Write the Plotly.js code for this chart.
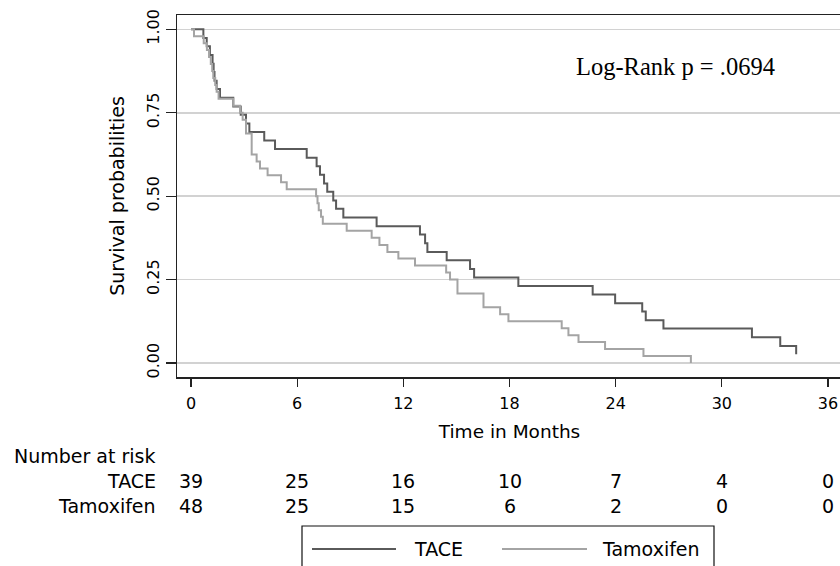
<!DOCTYPE html>
<html>
<head>
<meta charset="utf-8">
<script src="https://cdn.plot.ly/plotly-3.0.1.min.js"></script>
<style>
html, body { margin: 0; padding: 0; background: #fff; overflow: hidden; }
#chart { width: 860px; height: 566px; }
</style>
</head>
<body>
<div id="chart"></div>
<script>
// ---- data (Kaplan-Meier step points) ----
const taceTime = [0, 0.70, 0.89, 1.07, 1.22, 1.28, 1.33, 1.45, 1.64, 2.39, 2.81, 3.11, 3.30, 4.14, 4.75,
  6.54, 7.10, 7.29, 7.52, 7.70, 8.04, 8.20, 8.61, 10.49, 12.94, 13.23, 13.36, 14.45, 15.77, 16.00,
  18.50, 22.70, 23.97, 25.50, 25.70, 26.70, 31.70, 33.30, 34.20];
const taceSurv = [1.0, 0.974, 0.949, 0.923, 0.897, 0.872, 0.846, 0.821, 0.795, 0.769, 0.744, 0.718, 0.692, 0.667, 0.641,
  0.615, 0.590, 0.564, 0.538, 0.513, 0.487, 0.462, 0.436, 0.410, 0.385, 0.359, 0.333, 0.308, 0.282, 0.256,
  0.231, 0.205, 0.179, 0.154, 0.128, 0.103, 0.077, 0.051, 0.026];

const tamoTime = [0, 0.17, 0.72, 0.90, 1.02, 1.12, 1.20, 1.26, 1.37, 1.45, 1.56, 2.39, 2.77, 2.92, 3.11,
  3.43, 3.71, 3.90, 4.33, 5.09, 5.41, 7.07, 7.15, 7.22, 7.35, 7.45, 8.80, 10.21, 10.65, 11.10, 11.72,
  12.66, 14.42, 14.64, 15.06, 16.53, 17.47, 17.94, 20.95, 21.33, 21.90, 23.40, 25.57, 28.25];
const tamoSurv = [1.0, 0.979, 0.958, 0.938, 0.917, 0.896, 0.875, 0.854, 0.833, 0.813, 0.792, 0.771, 0.750, 0.729, 0.688,
  0.625, 0.604, 0.583, 0.563, 0.542, 0.521, 0.500, 0.479, 0.458, 0.438, 0.417, 0.396, 0.375, 0.354, 0.333, 0.313,
  0.292, 0.271, 0.250, 0.208, 0.167, 0.146, 0.125, 0.104, 0.083, 0.063, 0.042, 0.021, 0.0];

const groups = ["TACE", "Tamoxifen"];
const riskTimes = [0, 6, 12, 18, 24, 30, 36];
const riskTACE = [39, 25, 16, 10, 7, 4, 0];
const riskTamo = [48, 25, 15, 6, 2, 0, 0];
const yTickVals = [0, 0.25, 0.5, 0.75, 1.0];
const yTickText = ["0.00", "0.25", "0.50", "0.75", "1.00"];
const xTickVals = [0, 6, 12, 18, 24, 30, 36];
const pText = "Log-Rank p = .0694";

// ---- styling ----
const cTACE = "#5a5a5a";
const cTamo = "#a4a4a4";
const sans = "DejaVu Sans";
const W = 860, H = 566, ML = 177, MR = 18, MT = 15, MB = 189;
const PW = W - ML - MR, PH = H - MT - MB;
const px = v => (v - ML) / PW;           // pixel x -> paper
const py = v => (H - MB - v) / PH;       // pixel y -> paper

const traces = [
  { x: taceTime, y: taceSurv, name: groups[0], type: "scatter", mode: "lines",
    line: { shape: "hv", color: cTACE, width: 2 }, showlegend: false, hoverinfo: "skip" },
  { x: tamoTime, y: tamoSurv, name: groups[1], type: "scatter", mode: "lines",
    line: { shape: "hv", color: cTamo, width: 2 }, showlegend: false, hoverinfo: "skip" }
];

const ann = [];
ann.push({ x: 27.4, y: 0.89, xref: "x", yref: "y", text: pText, showarrow: false,
  font: { family: "Liberation Serif", size: 24.5, color: "#000" }, xanchor: "center", yanchor: "middle" });

ann.push({ x: px(12), y: py(456), xref: "paper", yref: "paper", text: "Number at risk", showarrow: false,
  xanchor: "left", yanchor: "middle", font: { family: sans, size: 19, color: "#000" } });
const rows = [[groups[0], riskTACE, 481], [groups[1], riskTamo, 506]];
rows.forEach(r => {
  ann.push({ x: px(158), y: py(r[2]), xref: "paper", yref: "paper", text: r[0], showarrow: false,
    xanchor: "right", yanchor: "middle", font: { family: sans, size: 19, color: "#000" } });
  riskTimes.forEach((t, i) => {
    ann.push({ x: t, y: py(r[2]), xref: "x", yref: "paper", text: String(r[1][i]), showarrow: false,
      xanchor: "center", yanchor: "middle", font: { family: sans, size: 19, color: "#000" } });
  });
});

// legend (custom box)
const legY = 549;
ann.push({ x: px(412), y: py(legY), xref: "paper", yref: "paper", text: groups[0], showarrow: false,
  xanchor: "left", yanchor: "middle", font: { family: sans, size: 19, color: "#000" } });
ann.push({ x: px(600), y: py(legY), xref: "paper", yref: "paper", text: groups[1], showarrow: false,
  xanchor: "left", yanchor: "middle", font: { family: sans, size: 19, color: "#000" } });

const shapes = [
  { type: "rect", xref: "paper", yref: "paper", x0: px(302), x1: px(714), y0: py(526), y1: py(590),
    line: { color: "#111", width: 1.2 }, fillcolor: "rgba(0,0,0,0)" },
  { type: "line", xref: "paper", yref: "paper", x0: px(312), x1: px(396), y0: py(legY), y1: py(legY),
    line: { color: cTACE, width: 2 } },
  { type: "line", xref: "paper", yref: "paper", x0: px(502), x1: px(587), y0: py(legY), y1: py(legY),
    line: { color: cTamo, width: 2 } }
];

const layout = {
  width: W, height: H,
  margin: { l: ML, r: MR, t: MT, b: MB, pad: 0 },
  paper_bgcolor: "#fff", plot_bgcolor: "#fff",
  showlegend: false,
  font: { family: sans, color: "#000" },
  xaxis: {
    range: [-0.79, 36.79], tickvals: xTickVals, ticks: "outside", ticklen: 8, tickwidth: 1.2, tickcolor: "#222",
    ticklabelstandoff: 3,
    showgrid: false, zeroline: false, showline: true, mirror: true, linecolor: "#222", linewidth: 1.5,
    tickfont: { family: sans, size: 16, color: "#000" },
    title: { text: "Time in Months", font: { family: sans, size: 18.5, color: "#000" }, standoff: 13 },
    automargin: false, fixedrange: true
  },
  yaxis: {
    range: [-0.042, 1.043], tickvals: yTickVals, ticktext: yTickText, tickangle: -90,
    ticks: "outside", ticklen: 10, tickwidth: 1.2, tickcolor: "#222",
    showgrid: true, gridcolor: "#d2d2d2", gridwidth: 1.5, zeroline: false,
    showline: true, mirror: true, linecolor: "#222", linewidth: 1.5,
    tickfont: { family: sans, size: 16, color: "#000" },
    title: { text: "Survival probabilities", font: { family: sans, size: 19, color: "#000" }, standoff: 14 },
    automargin: false, fixedrange: true
  },
  annotations: ann,
  shapes: shapes
};

Plotly.newPlot("chart", traces, layout, { staticPlot: true, displayModeBar: false });
</script>
</body>
</html>
